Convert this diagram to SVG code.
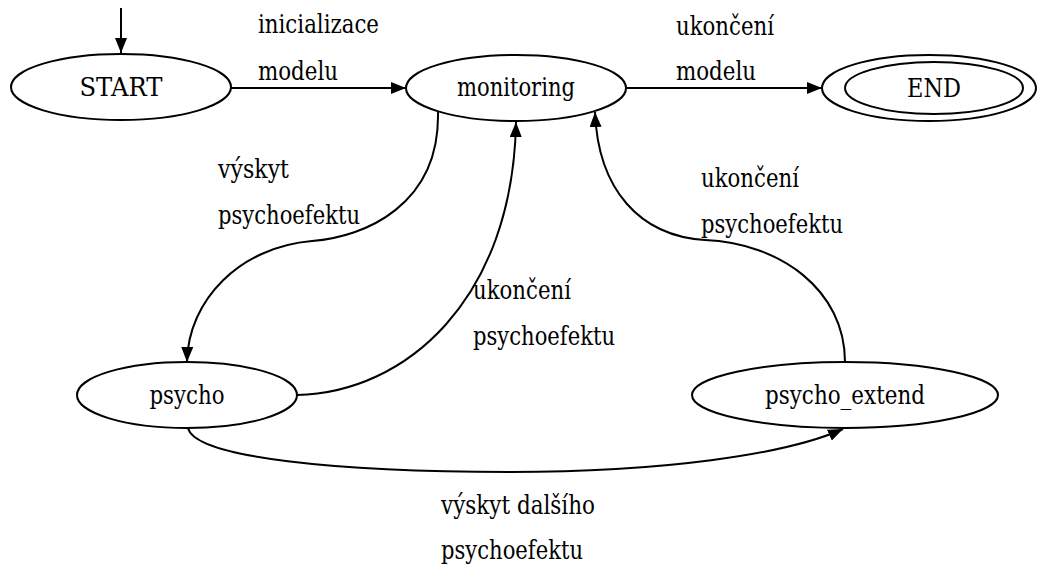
<svg xmlns="http://www.w3.org/2000/svg" width="1038" height="568" viewBox="0 0 1038 568" font-family="DejaVu Serif, Liberation Serif, serif" font-size="25.5">
<style>
  .node { fill: none; stroke: #000; stroke-width: 2; }
  .edge { fill: none; stroke: #000; stroke-width: 2; }
  .c { text-anchor: middle; }
</style>
<defs>
  <marker id="arr" viewBox="0 0 15 12" refX="15" refY="6" markerWidth="15" markerHeight="12" markerUnits="userSpaceOnUse" orient="auto">
    <polygon points="0,0 15,6 0,12" fill="#000"/>
  </marker>
</defs>
<rect width="1038" height="568" fill="#fff"/>
<g id="connectors">
  <path class="edge" d="M121,8 L121,53" marker-end="url(#arr)"/>
  <path class="edge" d="M231,88 L406,88" marker-end="url(#arr)"/>
  <path class="edge" d="M626,88 L822,88" marker-end="url(#arr)"/>
  <path class="edge" d="M438,112 C440,205 365,237 312,241 C240,247 188,300 187,362" marker-end="url(#arr)"/>
  <path class="edge" d="M297,395 C405,393 513,300 516,122" marker-end="url(#arr)"/>
  <path class="edge" d="M845,362 C845,290 780,243 705,240 C640,236 598,190 595,112" marker-end="url(#arr)"/>
  <path class="edge" d="M188,428 C195,458 340,472 510,472 C660,472 785,455 843,429" marker-end="url(#arr)"/>
  <text x="258" y="33" textLength="121" lengthAdjust="spacingAndGlyphs">inicializace</text>
  <text x="258" y="80" textLength="80" lengthAdjust="spacingAndGlyphs">modelu</text>
  <text x="676" y="35" textLength="98" lengthAdjust="spacingAndGlyphs">ukončení</text>
  <text x="676" y="80" textLength="80" lengthAdjust="spacingAndGlyphs">modelu</text>
  <text x="218" y="178" textLength="71" lengthAdjust="spacingAndGlyphs">výskyt</text>
  <text x="218" y="224" textLength="142" lengthAdjust="spacingAndGlyphs">psychoefektu</text>
  <text x="473" y="299" textLength="98" lengthAdjust="spacingAndGlyphs">ukončení</text>
  <text x="473" y="345" textLength="142" lengthAdjust="spacingAndGlyphs">psychoefektu</text>
  <text x="701" y="187" textLength="98" lengthAdjust="spacingAndGlyphs">ukončení</text>
  <text x="701" y="233" textLength="142" lengthAdjust="spacingAndGlyphs">psychoefektu</text>
  <text x="441" y="514" textLength="154" lengthAdjust="spacingAndGlyphs">výskyt dalšího</text>
  <text x="441" y="559" textLength="142" lengthAdjust="spacingAndGlyphs">psychoefektu</text>
</g>
<g id="START">
  <ellipse class="node" cx="121" cy="87" rx="110" ry="33"/>
  <text class="c" x="121" y="96" textLength="83" lengthAdjust="spacingAndGlyphs">START</text>
</g>
<g id="monitoring">
  <ellipse class="node" cx="516" cy="88" rx="110" ry="33"/>
  <text class="c" x="516" y="96" textLength="118" lengthAdjust="spacingAndGlyphs">monitoring</text>
</g>
<g id="END">
  <ellipse class="node" cx="929" cy="88" rx="107" ry="33"/>
  <ellipse class="node" cx="934" cy="88" rx="89" ry="26"/>
  <text class="c" x="934" y="97" textLength="54" lengthAdjust="spacingAndGlyphs">END</text>
</g>
<g id="psycho">
  <ellipse class="node" cx="187" cy="395" rx="110" ry="33"/>
  <text class="c" x="187" y="404" textLength="75" lengthAdjust="spacingAndGlyphs">psycho</text>
</g>
<g id="psycho_extend">
  <ellipse class="node" cx="845" cy="395" rx="153" ry="33"/>
  <text class="c" x="845" y="404" textLength="160" lengthAdjust="spacingAndGlyphs">psycho_extend</text>
</g>
</svg>
